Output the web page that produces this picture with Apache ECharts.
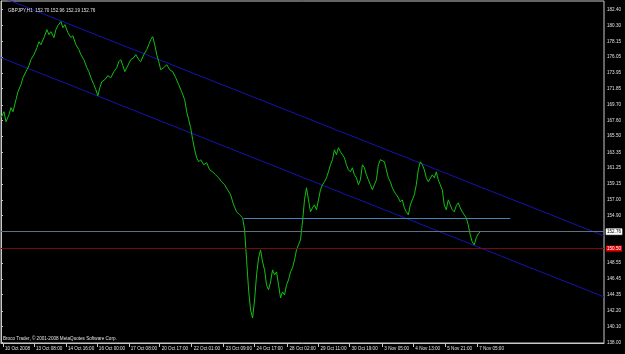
<!DOCTYPE html>
<html><head><meta charset="utf-8">
<script src="https://cdn.jsdelivr.net/npm/echarts@6/dist/echarts.min.js"></script>
<style>html,body{margin:0;padding:0;background:#000;}#c{width:625px;height:354px;}</style>
</head><body><div id="c"></div>
<script>
// ---- data ----
const symbolInfo = "GBPJPY,H1  152.70 152.96 152.19 152.76";
const copyright = "Broco Trader, \u00A9 2001-2008 MetaQuotes Software Corp.";
const bars = [0,3,5,8,10,12,15,17,20,22,25,28,30,33,36,38,40,43,46,48,50,53,55,57,60,62,64,67,70,72,75,78,80,83,86,88,90,93,95,97,99,101,104,107,110,113,116,118,120,122,124,127,130,133,135,138,140,143,146,148,150,152,154,156,158,160,163,166,169,172,175,178,181,184,186,188,190,192,194,196,198,200,203,206,209,212,215,218,221,224,227,230,233,236,239,242,244,246,248,250,252,254,256,258,260,262,264,266,268,270,272,274,276,278,280,282,284,286,288,290,292,294,296,298,300,302,304,306,308,310,312,314,316,318,320,322,324,326,328,330,332,334,336,338,340,342,344,346,348,350,352,354,356,358,360,362,364,366,368,370,372,374,376,378,380,382,384,386,388,390,392,394,396,398,400,402,404,406,408,410,412,414,416,418,420,422,424,426,428,430,432,434,436,438,440,442,444,446,448,450,452,454,456,458,460,462,464,466,468,470,472,474,476,478,480];
const closes = [167.97,168.77,167.43,168.37,169.31,168.77,170.37,171.44,172.38,173.31,174.12,174.92,175.72,176.39,177.32,178.12,177.72,178.66,179.73,179.06,179.46,178.66,179.73,180.26,180.80,179.99,180.40,179.33,178.66,178.93,177.72,177.06,176.39,175.72,174.65,174.12,173.31,172.38,171.71,170.91,171.98,172.78,173.05,173.58,173.31,174.12,174.65,175.45,175.72,174.92,174.12,174.92,175.72,175.99,176.39,175.72,175.45,176.39,177.06,177.72,178.39,178.79,177.72,176.39,175.45,174.38,174.65,175.05,174.38,174.12,173.31,172.38,171.44,170.37,168.77,167.70,166.63,165.03,163.69,162.62,162.09,162.36,161.69,161.96,161.02,160.75,160.35,159.95,159.42,159.02,158.35,157.68,156.34,155.41,155.01,154.61,153.00,149.00,144.99,142.31,141.24,143.65,146.99,149.26,150.33,148.73,147.66,145.66,144.99,146.06,147.66,146.99,147.39,145.66,143.92,144.72,144.32,145.66,146.32,147.39,147.93,149.00,150.33,151.00,151.67,154.07,157.01,158.62,157.01,155.41,155.94,156.34,155.68,157.01,158.35,159.02,159.42,159.95,160.75,161.69,162.36,163.69,163.03,163.96,163.43,163.69,162.62,161.69,161.02,160.75,161.29,160.35,159.95,159.02,159.68,161.69,161.29,160.35,159.68,159.02,158.35,159.02,159.68,161.69,162.36,162.62,162.09,161.02,159.95,159.42,158.62,158.08,157.68,157.28,156.74,157.01,155.94,155.41,155.01,156.34,157.01,157.68,159.02,161.02,162.09,161.69,161.02,159.95,159.42,159.68,160.35,159.95,160.75,159.68,159.02,158.35,156.34,155.68,157.01,156.34,155.68,155.41,156.21,156.61,155.94,155.41,155.01,154.61,153.67,152.34,151.40,151.00,151.93,152.47,152.74];
const xLabelBars = [2,33,65,96,128,159,191,223,254,287,318,349,382,413,445,477];
const xLabels = ["10 Oct 2008","13 Oct 08:00","14 Oct 16:00","16 Oct 00:00","17 Oct 08:00","20 Oct 17:00","22 Oct 01:00","23 Oct 09:00","24 Oct 17:00","28 Oct 02:00","29 Oct 11:00","30 Oct 19:00","3 Nov 05:00","4 Nov 13:00","5 Nov 21:00","7 Nov 05:00"];
const yLabels = ["138.00","140.10","142.20","144.35","146.45","148.55","154.90","157.00","159.15","161.25","163.35","165.50","167.60","169.70","171.85","173.95","176.05","178.15","180.30","182.40"];
const upperChannel = [[0,184.07],[604,152.20]];
const lowerChannel = [[0,175.99],[604,144.05]];
const supportLevel = {from:243, to:510, price:154.61};
const bidPrice = 152.76;
const alertPrice = 150.50;
const yMin = 137.90, yMax = 183.55;

const FONT = "Liberation Sans";
const TXT = "#e0e0e0";
const chart = echarts.init(document.getElementById('c'), null, {renderer:'canvas'});
const closeData = bars.map((b,i)=>[b, closes[i]]);
chart.setOption({
  animation:false,
  backgroundColor:'#000',
  title:{text:symbolInfo,left:3,top:3,textStyle:{color:TXT,fontSize:4.6,fontWeight:'normal',fontFamily:FONT}},
  graphic:[{type:'text',left:3,top:336,style:{text:copyright,fill:TXT,font:'4.6px "Liberation Sans"'}}],
  grid:{left:1,right:21,top:1,bottom:11,show:true,borderColor:'#c8c8c8',borderWidth:1,backgroundColor:'#000'},
  xAxis:{type:'value',min:0,max:604,splitLine:{show:false},
    axisLine:{show:true,lineStyle:{color:'#c8c8c8',width:1}},
    axisTick:{show:true,customValues:xLabelBars,length:4,lineStyle:{color:'#c8c8c8'}},
    axisLabel:{customValues:xLabelBars,align:'left',margin:3,padding:[0,0,0,2],color:TXT,fontSize:4.6,fontFamily:FONT,
      formatter:v=>{const i=xLabelBars.indexOf(v);return i>=0?xLabels[i]:'';}}},
  yAxis:{type:'value',position:'right',min:yMin,max:yMax,scale:true,splitLine:{show:false},
    axisLine:{show:true,lineStyle:{color:'#c8c8c8',width:1}},
    axisTick:{show:true,customValues:yLabels.map(Number),length:2,lineStyle:{color:'#c8c8c8'}},
    axisLabel:{customValues:yLabels.map(Number),margin:3,color:TXT,fontSize:4.6,fontFamily:FONT,
      formatter:v=>v.toFixed(2)}},
  series:[
    {type:'line',data:upperChannel,symbol:'none',silent:true,lineStyle:{color:'#1414b0',width:1},z:1},
    {type:'line',data:lowerChannel,symbol:'none',silent:true,lineStyle:{color:'#1414b0',width:1},z:1},
    {type:'line',data:closeData,symbol:'none',silent:true,lineStyle:{color:'#12c012',width:1},z:3,
      markLine:{silent:true,symbol:'none',animation:false,
        data:[
          {yAxis:bidPrice,lineStyle:{color:'#5f7080',width:1,type:'solid'},
            label:{show:true,position:'end',distance:2,formatter:p=>p.value.toFixed(2),color:'#000',backgroundColor:'#fff',borderColor:'#888',borderWidth:0.5,padding:[1,1,0,1],fontSize:4.6,fontFamily:FONT}},
          {yAxis:alertPrice,lineStyle:{color:'#7a0a0a',width:1,type:'solid'},
            label:{show:true,position:'end',distance:2,formatter:p=>p.value.toFixed(2),color:'#fff',backgroundColor:'#e00000',padding:[1,1,0,1],fontSize:4.6,fontFamily:FONT}},
          [{coord:[supportLevel.from,supportLevel.price],lineStyle:{color:'#4682b4',width:1,type:'solid'},label:{show:false}},
           {coord:[supportLevel.to,supportLevel.price]}]
        ]}}
  ]
});
</script></body></html>
